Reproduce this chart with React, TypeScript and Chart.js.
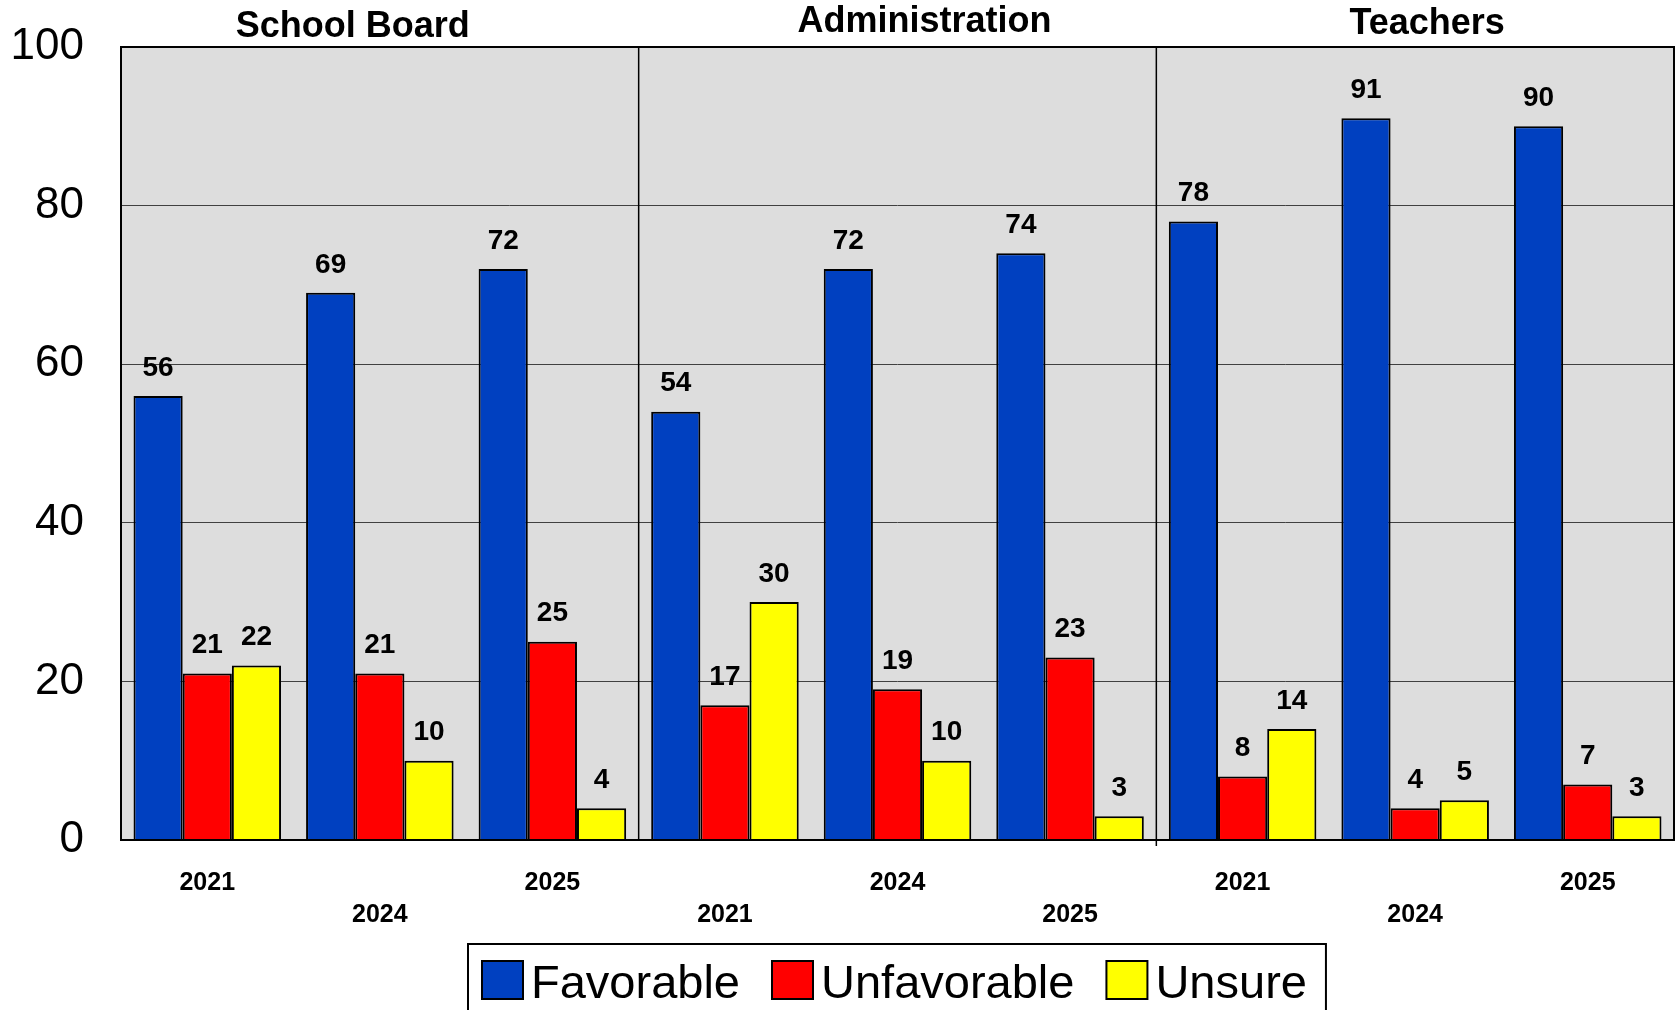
import React, { useEffect, useRef } from "react";
import { Chart, registerables } from "chart.js";

Chart.register(...registerables);

const groups = ["School Board", "Administration", "Teachers"];
const years = ["2021", "2024", "2025"];
const categories = groups.flatMap(() => years);
const favorable = [56, 69, 72, 54, 72, 74, 78, 91, 90];
const unfavorable = [21, 21, 25, 17, 19, 23, 8, 4, 7];
const unsure = [22, 10, 4, 30, 10, 3, 14, 5, 3];
const seriesNames = ["Favorable", "Unfavorable", "Unsure"];
const seriesColors = ["#0040C0", "#FF0000", "#FFFF00"];
const yTicks = [0, 20, 40, 60, 80, 100];

const FONT = '"Liberation Sans", Arial, sans-serif';

const decor = {
  id: "decor",
  beforeDraw(chart: any) {
    const { ctx, chartArea: a } = chart;
    ctx.save();
    ctx.fillStyle = "#DDDDDD";
    ctx.fillRect(a.left, a.top, a.right - a.left, a.bottom - a.top);
    ctx.restore();
  },
  afterDatasetsDraw(chart: any) {
    const { ctx, chartArea: a } = chart;
    const x = chart.scales.x;
    ctx.save();
    // plot border
    ctx.strokeStyle = "#000";
    ctx.lineWidth = 2;
    ctx.strokeRect(a.left, a.top, a.right - a.left, a.bottom - a.top);
    // group dividers
    ctx.lineWidth = 1.5;
    for (let g = 1; g < groups.length; g++) {
      const i = g * years.length;
      const px = (x.getPixelForValue(i - 1) + x.getPixelForValue(i)) / 2;
      ctx.beginPath();
      ctx.moveTo(px, a.top);
      ctx.lineTo(px, a.bottom + (g === 2 ? 6 : 0));
      ctx.stroke();
    }
    // value labels
    ctx.fillStyle = "#000";
    ctx.font = `bold 28px ${FONT}`;
    ctx.textAlign = "center";
    ctx.textBaseline = "middle";
    chart.data.datasets.forEach((ds: any, di: number) => {
      chart.getDatasetMeta(di).data.forEach((bar: any, i: number) => {
        ctx.fillText(String(ds.data[i]), bar.x, bar.y - 28);
      });
    });
    // group titles
    const offs = [-27, 27, 12];
    const ys = [27, 22, 24];
    ctx.font = `bold 36px ${FONT}`;
    groups.forEach((g, gi) => {
      const c =
        (x.getPixelForValue(gi * 3) + x.getPixelForValue(gi * 3 + 2)) / 2 + offs[gi];
      ctx.fillText(g, c, ys[gi]);
    });
    // legend
    ctx.font = `47px ${FONT}`;
    ctx.textAlign = "left";
    ctx.textBaseline = "alphabetic";
    let cx = 482;
    const sq = 41;
    const sqH = 38;
    const top = 961;
    chart.data.datasets.forEach((ds: any, di: number) => {
      ctx.fillStyle = ds.backgroundColor;
      ctx.fillRect(cx, top, sq, sqH);
      ctx.strokeStyle = "#000";
      ctx.lineWidth = 2;
      ctx.strokeRect(cx, top, sq, sqH);
      ctx.fillStyle = "#000";
      const tx = cx + sq + 8;
      ctx.fillText(ds.label, tx, 998);
      const w = ctx.measureText(ds.label).width;
      cx = tx + w + (di < chart.data.datasets.length - 1 ? 32 : 0);
    });
    ctx.lineWidth = 2;
    ctx.strokeStyle = "#000";
    ctx.strokeRect(468, 944, cx + 19 - 468, 100);
    ctx.restore();
  },
};

export default function App() {
  const ref = useRef<HTMLCanvasElement>(null);
  useEffect(() => {
    document.body.style.margin = "0";
    const seriesData = [favorable, unfavorable, unsure];
    const chart = new Chart(ref.current as HTMLCanvasElement, {
      type: "bar",
      data: {
        labels: categories,
        datasets: seriesNames.map((n, i) => ({
          label: n,
          data: seriesData[i],
          backgroundColor: seriesColors[i],
          borderColor: "#000",
          borderWidth: 2,
          categoryPercentage: 0.855,
          barPercentage: 1,
        })),
      },
      options: {
        responsive: false,
        animation: false,
        layout: { padding: { top: 47, right: 6, left: 0, bottom: 0 } },
        plugins: { legend: { display: false }, tooltip: { enabled: false } },
        scales: {
          x: {
            grid: { display: false },
            border: { display: false },
            afterFit: (s: any) => {
              s.height = 170;
            },
            ticks: {
              autoSkip: false,
              maxRotation: 0,
              padding: 19,
              color: "#000",
              font: { family: FONT, size: 25, weight: "bold", lineHeight: 1.28 },
              callback: (_v: any, i: number) =>
                i % 2 === 0 ? categories[i] : ["", categories[i]],
            },
          },
          y: {
            min: yTicks[0],
            max: yTicks[yTicks.length - 1],
            afterFit: (s: any) => {
              s.width = 121;
              s.paddingTop = 0;
              s.paddingBottom = 0;
            },
            afterBuildTicks: (s: any) => {
              s.ticks = yTicks.map((v) => ({ value: v }));
            },
            border: { display: false },
            grid: { color: "#404040", lineWidth: 1, drawTicks: false },
            ticks: {
              padding: 37,
              color: "#000",
              font: { family: FONT, size: 44 },
            },
          },
        },
      },
      plugins: [decor],
    });
    return () => chart.destroy();
  }, []);
  return (
    <div style={{ width: 1680, height: 1010, background: "#fff" }}>
      <canvas ref={ref} width={1680} height={1010} />
    </div>
  );
}
